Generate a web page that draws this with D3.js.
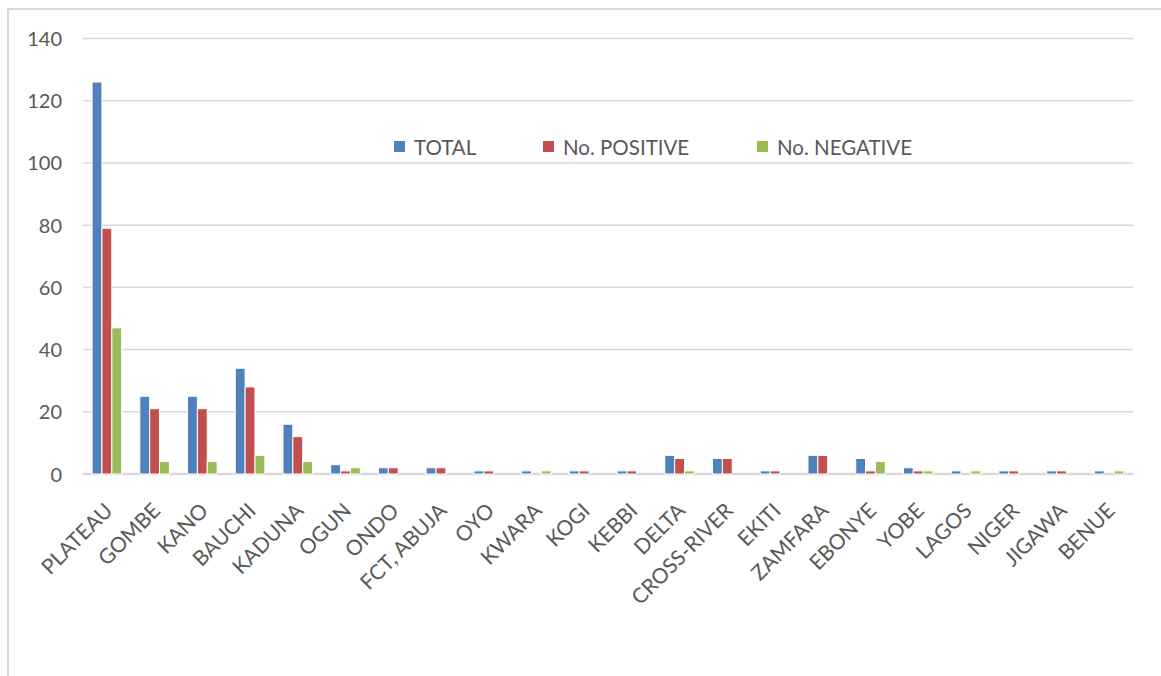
<!DOCTYPE html>
<html>
<head>
<meta charset="utf-8">
<script src="https://cdn.jsdelivr.net/npm/d3@7"></script>
<style>
  html, body { margin: 0; padding: 0; background: #fff; }
  svg { display: block; }
  text { font-family: Lato, "Open Sans", sans-serif; fill: #595959; }
</style>
</head>
<body>
<svg id="chart" width="1161" height="676"></svg>
<script>
// States and test counts
const categories = ["PLATEAU", "GOMBE", "KANO", "BAUCHI", "KADUNA", "OGUN", "ONDO", "FCT, ABUJA", "OYO", "KWARA", "KOGI", "KEBBI", "DELTA", "CROSS-RIVER", "EKITI", "ZAMFARA", "EBONYE", "YOBE", "LAGOS", "NIGER", "JIGAWA", "BENUE"];
const total    = [126, 25, 25, 34, 16, 3, 2, 2, 1, 1, 1, 1, 6, 5, 1, 6, 5, 2, 1, 1, 1, 1];
const positive = [79, 21, 21, 28, 12, 1, 2, 2, 1, 0, 1, 1, 5, 5, 1, 6, 1, 1, 0, 1, 1, 0];
const negative = [47, 4, 4, 6, 4, 2, 0, 0, 0, 1, 0, 0, 1, 0, 0, 0, 4, 1, 1, 0, 0, 1];
const seriesNames = ["TOTAL", "No. POSITIVE", "No. NEGATIVE"];
const seriesColors = ["#4F81BD", "#C0504D", "#9BBB59"];
const yTicks = [0, 20, 40, 60, 80, 100, 120, 140];

const seriesValues = [total, positive, negative];
const rows = categories.map((c, i) => ({ cat: c, vals: seriesValues.map(s => s[i]) }));

const svg = d3.select("#chart");

// Chart frame
svg.append("path")
  .attr("d", "M8,676 V9 H1161")
  .attr("fill", "none")
  .attr("stroke", "#d9d9d9")
  .attr("stroke-width", 2);

const plot = { left: 83, right: 1133, top: 38.5, bottom: 474 };

const x0 = d3.scaleBand()
  .domain(categories)
  .range([plot.left, plot.right])
  .paddingInner(0.38)
  .paddingOuter(0.19);

const x1 = d3.scaleBand()
  .domain(d3.range(seriesNames.length))
  .range([0, x0.bandwidth()]);

const y = d3.scaleLinear().domain([0, 140]).range([plot.bottom, plot.top]);

// Gridlines
svg.append("g")
  .selectAll("line")
  .data(yTicks)
  .join("line")
  .attr("x1", plot.left)
  .attr("x2", plot.right)
  .attr("y1", d => y(d))
  .attr("y2", d => y(d))
  .attr("stroke", "#d9d9d9")
  .attr("stroke-width", d => d === 0 ? 2.5 : 1.5);

// Y axis labels
const yAxis = d3.axisLeft(y).tickValues(yTicks).tickSize(0).tickPadding(0);
const yg = svg.append("g")
  .attr("transform", `translate(${62},0)`)
  .call(yAxis);
yg.select(".domain").remove();
yg.selectAll("text")
  .attr("font-size", 20)
  .attr("fill", "#595959")
  .attr("font-family", "Lato, sans-serif")
  .attr("dy", "0.35em");

// Bars
const groups = svg.append("g")
  .selectAll("g")
  .data(rows)
  .join("g")
  .attr("transform", d => `translate(${x0(d.cat)},0)`);

groups.selectAll("rect")
  .data(d => d.vals.map((v, k) => ({ v, k })).filter(e => e.v > 0))
  .join("rect")
  .attr("x", d => x1(d.k))
  .attr("width", x1.bandwidth())
  .attr("y", d => y(d.v))
  .attr("height", d => y(0) - y(d.v))
  .attr("fill", d => seriesColors[d.k])
  .attr("stroke", "#fff")
  .attr("stroke-width", 1);

// Category labels, rotated
const xAxis = d3.axisBottom(x0).tickSize(0).tickPadding(0);
const xg = svg.append("g")
  .attr("transform", `translate(0,${plot.bottom})`)
  .call(xAxis);
xg.select(".domain").remove();
xg.selectAll("text")
  .attr("font-size", 21)
  .attr("fill", "#595959")
  .attr("font-family", "Lato, sans-serif")
  .attr("text-anchor", "end")
  .attr("dy", null)
  .attr("y", 0)
  .attr("transform", "translate(7,38) rotate(-45)");

// Legend
const legendX = [394, 543, 757];
const legend = svg.append("g")
  .selectAll("g")
  .data(seriesNames)
  .join("g")
  .attr("transform", (d, i) => `translate(${legendX[i]},141)`);
legend.append("rect")
  .attr("width", 11)
  .attr("height", 11)
  .attr("fill", (d, i) => seriesColors[i]);
legend.append("text")
  .attr("x", 20)
  .attr("y", 13.5)
  .attr("font-size", 20.5)
  .text(d => d);
</script>
</body>
</html>
